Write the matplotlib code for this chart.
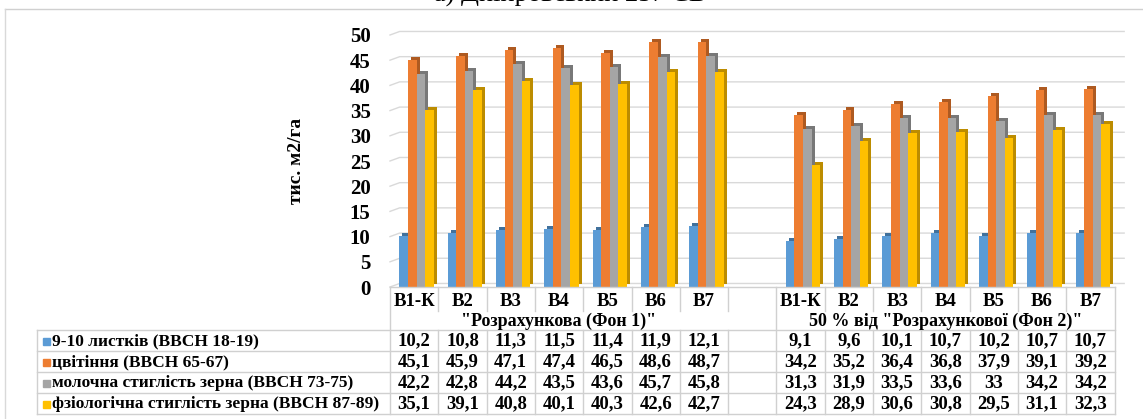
import matplotlib
matplotlib.use("Agg")
import matplotlib.pyplot as plt
import matplotlib.transforms as mtransforms
from matplotlib.lines import Line2D
from matplotlib.patches import Rectangle
import numpy as np

# --- data -----------------------------------------------------------------
variants = ["В1-К", "В2", "В3", "В4", "В5", "В6", "В7"]
backgrounds = ['"Розрахункова (Фон 1)"', '50 % від "Розрахункової (Фон 2)"']
series_names = [
    "9-10 листків (ВВСН 18-19)",
    "цвітіння (ВВСН 65-67)",
    "молочна стиглість зерна (ВВСН 73-75)",
    "фзіологічна стиглість зерна (ВВСН 87-89)",
]
leaves_fon1 = [10.2, 10.8, 11.3, 11.5, 11.4, 11.9, 12.1]
leaves_fon2 = [9.1, 9.6, 10.1, 10.7, 10.2, 10.7, 10.7]
flower_fon1 = [45.1, 45.9, 47.1, 47.4, 46.5, 48.6, 48.7]
flower_fon2 = [34.2, 35.2, 36.4, 36.8, 37.9, 39.1, 39.2]
milk_fon1 = [42.2, 42.8, 44.2, 43.5, 43.6, 45.7, 45.8]
milk_fon2 = [31.3, 31.9, 33.5, 33.6, 33, 34.2, 34.2]
phys_fon1 = [35.1, 39.1, 40.8, 40.1, 40.3, 42.6, 42.7]
phys_fon2 = [24.3, 28.9, 30.6, 30.8, 29.5, 31.1, 32.3]

colors = ["#5B9BD5", "#ED7D31", "#A5A5A5", "#FFC000"]
side_colors = ["#41719C", "#AE5A21", "#787878", "#BC8C00"]

fon1 = [leaves_fon1, flower_fon1, milk_fon1, phys_fon1]
fon2 = [leaves_fon2, flower_fon2, milk_fon2, phys_fon2]

W, H = 1143, 419
SERIF = "Liberation Serif"
plt.rcParams["font.family"] = [SERIF, "DejaVu Serif"]

fig = plt.figure(figsize=(W / 100, H / 100), dpi=100)


def fx(x):
    return x / W


def fy(y):
    return 1 - y / H


ax = fig.add_axes([fx(390), fy(287), fx(1114.5) - fx(390), fy(35) - fy(287)])
ax.set_xlim(-0.5, 14.5)
ax.set_ylim(0, 50)
for s in ax.spines.values():
    s.set_visible(False)
ax.set_xticks([])
ax.set_yticks(np.arange(0, 51, 5))
ax.tick_params(axis="y", length=0, pad=14)
for lab in ax.get_yticklabels():
    lab.set_fontweight("bold")
    lab.set_fontsize(15)
ax.set_ylabel("тис. м2/га", fontsize=14, fontweight="bold", labelpad=32)
ax.patch.set_alpha(0)

# positions: 7 variants, one blank slot, 7 variants
pos1 = np.arange(len(variants))
pos2 = pos1 + len(variants) + 1
positions = np.concatenate([pos1, pos2])

# back wall gridlines
for v in np.arange(0, 51, 5):
    ax.plot([-0.5, -0.3, 14.7], [v, v + 0.7, v + 0.7], color="#D9D9D9",
            lw=1, zorder=0, clip_on=False)

# bars with simple 3D depth
depth = mtransforms.ScaledTranslation(0.03, 0.03, fig.dpi_scale_trans)
bw = 0.178
for k in range(4):
    vals = np.array(fon1[k] + fon2[k])
    xs = positions + 0.05 + (k - 1.5) * bw
    back = ax.bar(xs, vals, width=bw, color=side_colors[k], zorder=2 + 2 * k)
    for p in back:
        p.set_transform(ax.transData + depth)
        p.set_clip_on(False)
    front = ax.bar(xs, vals, width=bw, color=colors[k], zorder=3 + 2 * k)
    for p in front:
        p.set_clip_on(False)

# --- data table -----------------------------------------------------------
line_c = "#D0D0D0"
tr = mtransforms.blended_transform_factory(ax.transData, fig.transFigure)


def hline(x0, x1, y):
    fig.add_artist(Line2D([fx(x0), fx(x1)], [fy(y), fy(y)], color=line_c,
                          lw=1, transform=fig.transFigure))


def vline_cat(xd, y0, y1):
    fig.add_artist(Line2D([xd, xd], [fy(y0), fy(y1)], color=line_c, lw=1,
                          transform=tr))


row_lines = [330, 351, 372, 393, 414]
row_mid = [341, 362, 383, 404]
for y in row_lines:
    hline(37, 1114.5, y)
hline(390, 1114.5, 287)
fig.add_artist(Line2D([fx(37), fx(37)], [fy(330), fy(414)], color=line_c,
                      lw=1, transform=fig.transFigure))

for b in np.arange(-0.5, 15, 1):
    if b in (-0.5, 7.5, 14.5):
        vline_cat(b, 287, 414)
    else:
        vline_cat(b, 287, 311)
        vline_cat(b, 330, 414)

tkw = dict(fontsize=13.5, fontweight="bold", ha="center", va="center")
for i, name in enumerate(variants):
    fig.text(pos1[i], fy(301), name, transform=tr, **tkw)
    fig.text(pos2[i], fy(301), name, transform=tr, **tkw)
gkw = dict(tkw, fontsize=13)
fig.text(pos1.mean(), fy(321), backgrounds[0], transform=tr, **gkw)
fig.text(pos2.mean(), fy(321), backgrounds[1], transform=tr, **gkw)


def fmt(v):
    return f"{v:g}".replace(".", ",")


for k in range(4):
    y = row_mid[k]
    fig.patches.append(Rectangle((fx(43), fy(y + 3.5)), fx(7), 7 / H,
                                 color=colors[k], transform=fig.transFigure))
    fig.text(fx(52), fy(y), series_names[k], fontsize=12.5, fontweight="bold",
             ha="left", va="center")
    for i in range(len(variants)):
        fig.text(pos1[i], fy(y), fmt(fon1[k][i]), transform=tr, **tkw)
        fig.text(pos2[i], fy(y), fmt(fon2[k][i]), transform=tr, **tkw)

# chart frame and (cropped) title
hline(5, W, 9)
fig.add_artist(Line2D([fx(5), fx(5)], [fy(9), 0], color="#D9D9D9", lw=1,
                      transform=fig.transFigure))
fig.text(fx(570), fy(2), "а) Дніпровський 257 СВ", fontsize=19,
         ha="center", va="baseline")

fig.savefig("out.png", dpi=100)
